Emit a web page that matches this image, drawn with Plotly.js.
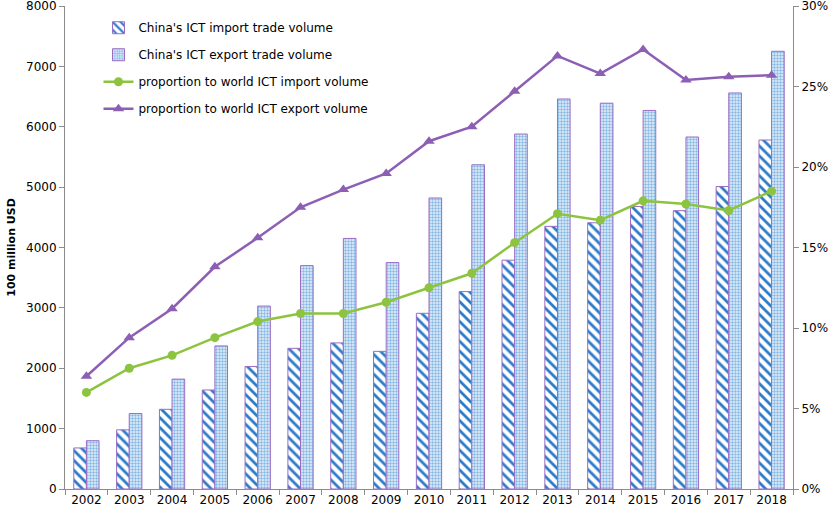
<!DOCTYPE html>
<html>
<head>
<meta charset="utf-8">
<script src="https://cdn.plot.ly/plotly-3.0.1.min.js"></script>
<style>
  body { margin: 0; background: #fff; }
  #chart { width: 837px; height: 515px; }
</style>
</head>
<body>
<div id="chart"></div>
<script>
// Data (import/export in 100 million USD, shares in %)
const years = ['2002', '2003', '2004', '2005', '2006', '2007', '2008', '2009', '2010',
  '2011', '2012', '2013', '2014', '2015', '2016', '2017', '2018'];
const importVolume = [680, 980, 1320, 1640, 2030, 2330, 2420, 2280, 2910,
  3270, 3790, 4350, 4410, 4680, 4610, 5010, 5780];
const exportVolume = [800, 1250, 1820, 2370, 3030, 3700, 4150, 3750, 4820,
  5370, 5880, 6460, 6390, 6270, 5830, 6560, 7250];
const importShare = [6.0, 7.5, 8.3, 9.4, 10.4, 10.9, 10.9, 11.6, 12.5,
  13.4, 15.3, 17.1, 16.7, 17.9, 17.7, 17.3, 18.5];
const exportShare = [7.0, 9.4, 11.2, 13.8, 15.6, 17.5, 18.6, 19.6, 21.6,
  22.5, 24.7, 26.9, 25.8, 27.3, 25.4, 25.6, 25.7];

const outline = '#9a6cc4';

const impBars = {
  x: years, y: importVolume, type: 'bar',
  name: "China's ICT import trade volume", legendgroup: 'a',
  marker: {
    color: '#ffffff',
    line: {color: outline, width: 1},
    pattern: {shape: '\\', fgcolor: '#2c7bc8', bgcolor: '#ffffff', size: 7, solidity: 0.4}
  }
};

const expBars = {
  x: years, y: exportVolume, type: 'bar',
  name: "China's ICT export trade volume", legendgroup: 'b',
  marker: {
    color: '#dcebf8',
    line: {color: outline, width: 1},
    pattern: {shape: '.', fgcolor: '#86b8e6', bgcolor: '#e8f2fb', size: 3, solidity: 0.5}
  }
};

const impLine = {
  x: years, y: importShare, yaxis: 'y2', type: 'scatter',
  mode: 'lines+markers',
  name: 'proportion to world ICT import volume', legendgroup: 'c',
  line: {color: '#8cc43f', width: 2.5},
  marker: {symbol: 'circle', size: 9, color: '#8cc43f'}
};

const expLine = {
  x: years, y: exportShare, yaxis: 'y2', type: 'scatter',
  mode: 'lines+markers',
  name: 'proportion to world ICT export volume', legendgroup: 'd',
  line: {color: '#8c5fb4', width: 2.5},
  marker: {symbol: 'triangle-up', size: 10, color: '#8c5fb4'}
};

const layout = {
  width: 837, height: 515,
  margin: {l: 65, r: 44, t: 6, b: 26},
  paper_bgcolor: '#fff', plot_bgcolor: '#fff',
  font: {family: 'DejaVu Sans, Verdana, sans-serif', size: 12, color: '#000'},
  barmode: 'group',
  bargap: 0.41,
  bargroupgap: 0,
  showlegend: true,
  legend: {
    x: 0.046, y: 0.985, xanchor: 'left', yanchor: 'top',
    bgcolor: 'rgba(0,0,0,0)',
    font: {size: 12},
    traceorder: 'grouped',
    tracegroupgap: 8
  },
  xaxis: {
    type: 'category', range: [-0.5, 16.5],
    showline: true, linecolor: '#8c8c8c', linewidth: 1,
    ticks: 'outside', tickson: 'boundaries', ticklen: 5, tickcolor: '#8c8c8c',
    showgrid: false, zeroline: false
  },
  yaxis: {
    range: [0, 8000], dtick: 1000,
    showline: true, linecolor: '#8c8c8c', linewidth: 1,
    ticks: 'outside', ticklen: 5, tickcolor: '#8c8c8c',
    ticklabeloverflow: 'allow',
    showgrid: false, zeroline: false,
    title: {text: '<b>100 million USD</b>', font: {size: 11}, standoff: 8}
  },
  yaxis2: {
    overlaying: 'y', side: 'right',
    range: [0, 30], dtick: 5, ticksuffix: '%',
    showline: true, linecolor: '#8c8c8c', linewidth: 1,
    ticks: 'outside', ticklen: 5, tickcolor: '#8c8c8c',
    ticklabeloverflow: 'allow',
    showgrid: false, zeroline: false
  }
};

Plotly.newPlot('chart', [impBars, expBars, impLine, expLine], layout, {displayModeBar: false});
</script>
</body>
</html>
